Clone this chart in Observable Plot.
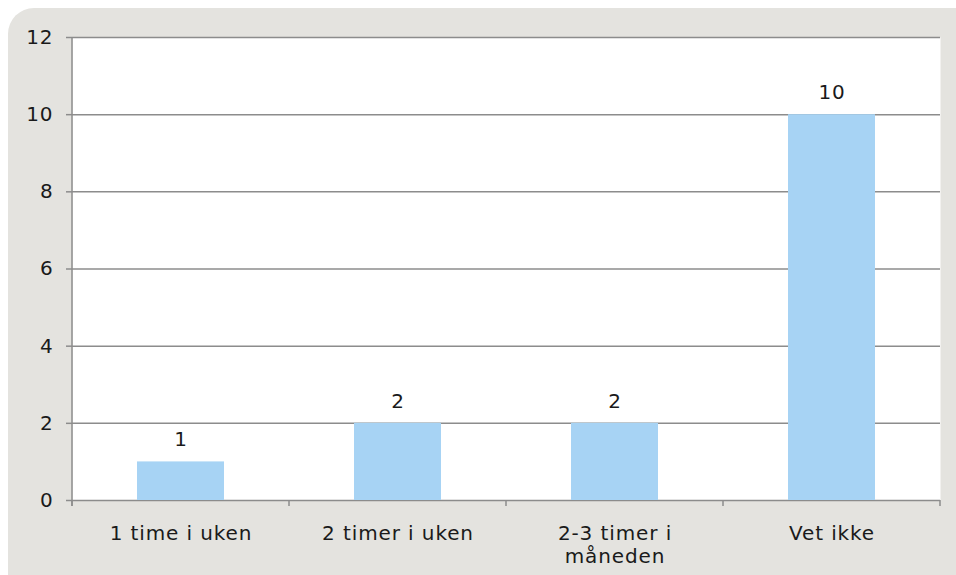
<!DOCTYPE html>
<html>
<head>
<meta charset="utf-8">
<script src="https://cdn.jsdelivr.net/npm/d3@7"></script>
<script src="https://cdn.jsdelivr.net/npm/@observablehq/plot@0.6"></script>
<style>
  html, body { margin: 0; padding: 0; background: #ffffff; }
  #wrap { position: relative; width: 956px; height: 575px; overflow: hidden; }
  #card { position: absolute; left: 8px; top: 8px; width: 980px; height: 600px;
          background: #e4e3df; border-radius: 26px; }
  #chart { position: absolute; left: 0; top: 0; }
  #chart svg { background: transparent; }
  #chart svg text { letter-spacing: 0.9px; }
</style>
</head>
<body>
<div id="wrap">
  <div id="card"></div>
  <div id="chart"></div>
</div>
<script>
const categories = ["1 time i uken", "2 timer i uken", "2-3 timer i måneden", "Vet ikke"];
const tickLabels = ["1 time i uken", "2 timer i uken", "2-3 timer i\nmåneden", "Vet ikke"];
const values = [1, 2, 2, 10];
const yTicks = [0, 2, 4, 6, 8, 10, 12];

const data = categories.map((c, i) => ({category: c, value: values[i], label: tickLabels[i]}));

const FONT = "'DejaVu Sans', Verdana, sans-serif";
const GRID = "#8c8c8c";
const FS = 20;

// left axis line + tick marks at the band boundaries on the x axis
function frameTicks(index, scales, values, dims) {
  const x = scales.x;
  const g = d3.create("svg:g").attr("stroke", GRID).attr("stroke-width", 1.5);
  const left = dims.marginLeft, right = dims.width - dims.marginRight;
  const bottom = dims.height - dims.marginBottom, top = dims.marginTop;
  const bw = x.bandwidth ? x.bandwidth() : 0;
  const bounds = [left];
  for (let i = 1; i < categories.length; i++) {
    bounds.push((x(categories[i - 1]) + bw + x(categories[i])) / 2);
  }
  bounds.push(right);
  g.append("line").attr("x1", left).attr("x2", left).attr("y1", top).attr("y2", bottom + 6);
  for (const b of bounds) {
    g.append("line").attr("x1", b).attr("x2", b).attr("y1", bottom).attr("y2", bottom + 6);
  }
  return g.node();
}

const plot = Plot.plot({
  width: 956,
  height: 575,
  marginLeft: 72,
  marginRight: 16,
  marginTop: 37,
  marginBottom: 75,
  style: {fontFamily: FONT, fontSize: FS + "px", color: "#1a1a1a", background: "transparent"},
  x: {domain: categories, paddingInner: 0.6, paddingOuter: 0.3, axis: null},
  y: {domain: [0, 12], axis: null},
  marks: [
    Plot.frame({fill: "white", stroke: null}),
    Plot.gridY(yTicks, {stroke: GRID, strokeOpacity: 1, strokeWidth: 1.5}),
    Plot.barY(data, {x: "category", y: "value", fill: "#a7d3f4"}),
    Plot.axisY(yTicks, {tickSize: 6, tickPadding: 13, label: null, stroke: GRID, strokeWidth: 1.5, fill: "#1a1a1a", fontSize: FS}),
    frameTicks,
    Plot.text(data, {x: "category", y: "value", text: d => String(d.value), lineAnchor: "middle", dy: -22, fontSize: FS, fill: "#1a1a1a"}),
    Plot.text(data, {x: "category", text: "label", frameAnchor: "bottom", lineAnchor: "top", dy: 23, lineHeight: 1.15, fontSize: FS, fill: "#1a1a1a"})
  ]
});
document.getElementById("chart").append(plot);
</script>
</body>
</html>
